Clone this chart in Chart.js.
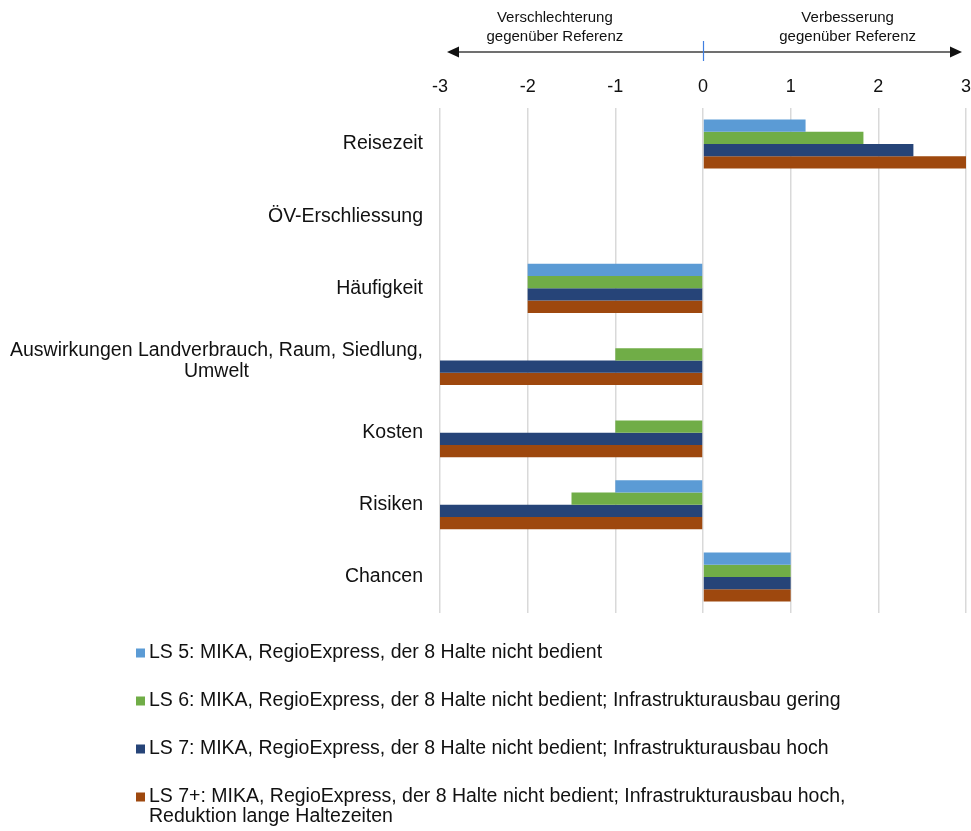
<!DOCTYPE html>
<html>
<head>
<meta charset="utf-8">
<script src="https://cdn.jsdelivr.net/npm/chart.js@4/dist/chart.umd.min.js"></script>
<style>
  html, body { margin: 0; padding: 0; background: #fff; }
  canvas { display: block; }
</style>
</head>
<body>
<canvas id="c" width="971" height="831"></canvas>
<script>
// Kriterien (Kategorien) und Bewertungen je Linienstrategie
const categories = [
  'Reisezeit',
  'ÖV-Erschliessung',
  'Häufigkeit',
  ['Auswirkungen Landverbrauch, Raum, Siedlung,', 'Umwelt'],
  'Kosten',
  'Risiken',
  'Chancen'
];
const seriesNames = [
  ['LS 5: MIKA, RegioExpress, der 8 Halte nicht bedient'],
  ['LS 6: MIKA, RegioExpress, der 8 Halte nicht bedient; Infrastrukturausbau gering'],
  ['LS 7: MIKA, RegioExpress, der 8 Halte nicht bedient; Infrastrukturausbau hoch'],
  ['LS 7+: MIKA, RegioExpress, der 8 Halte nicht bedient; Infrastrukturausbau hoch,', 'Reduktion lange Haltezeiten']
];
const ls5  = [1.17, 0, -2,  0,  0, -1,   1];
const ls6  = [1.83, 0, -2, -1, -1, -1.5, 1];
const ls7  = [2.4,  0, -2, -3, -3, -3,   1];
const ls7p = [3,    0, -2, -3, -3, -3,   1];
const tickValues = [-3, -2, -1, 0, 1, 2, 3];
const directionLabels = [
  ['Verschlechterung', 'gegenüber Referenz'],
  ['Verbesserung', 'gegenüber Referenz']
];

const colors = ['#5B9BD5', '#70AD47', '#264478', '#9E480E'];
const FONT = '"Liberation Sans", Arial, sans-serif';
const TEXT = '#111';

// Kategorienbeschriftung links (rechtsbündig, Zeilen untereinander zentriert)
const categoryLabels = {
  id: 'categoryLabels',
  afterDraw(chart) {
    const ctx = chart.ctx;
    const y = chart.scales.y;
    const rightEdge = 423;
    const lh = 21;
    ctx.save();
    ctx.font = '19.5px ' + FONT;
    ctx.fillStyle = TEXT;
    ctx.textBaseline = 'middle';
    categories.forEach((lab, i) => {
      const lines = Array.isArray(lab) ? lab : [lab];
      const cy = y.getPixelForValue(i) + (lines.length > 1 ? 1 : 0);
      const widths = lines.map(l => ctx.measureText(l).width);
      const maxW = Math.max(...widths);
      const blockCenter = rightEdge - maxW / 2;
      ctx.textAlign = 'center';
      lines.forEach((l, k) => {
        const ly = cy + (k - (lines.length - 1) / 2) * lh;
        ctx.fillText(l, blockCenter, ly);
      });
    });
    ctx.restore();
  }
};

// Pfeil oberhalb der Achse mit Richtungsbeschriftung
const directionArrow = {
  id: 'directionArrow',
  afterDraw(chart) {
    const ctx = chart.ctx;
    const x = chart.scales.x;
    const ay = 52;
    const x0 = x.getPixelForValue(-3) + 7;
    const x1 = x.getPixelForValue(3) - 4;
    const xz = x.getPixelForValue(0);
    ctx.save();
    ctx.strokeStyle = '#404040';
    ctx.fillStyle = '#111';
    ctx.lineWidth = 1.5;
    ctx.beginPath();
    ctx.moveTo(x0 + 8, ay);
    ctx.lineTo(x1 - 8, ay);
    ctx.stroke();
    ctx.beginPath();
    ctx.moveTo(x0, ay);
    ctx.lineTo(x0 + 12, ay - 5.5);
    ctx.lineTo(x0 + 12, ay + 5.5);
    ctx.closePath();
    ctx.fill();
    ctx.beginPath();
    ctx.moveTo(x1, ay);
    ctx.lineTo(x1 - 12, ay - 5.5);
    ctx.lineTo(x1 - 12, ay + 5.5);
    ctx.closePath();
    ctx.fill();
    ctx.strokeStyle = '#3F7FE0';
    ctx.lineWidth = 1.2;
    ctx.beginPath();
    ctx.moveTo(xz + 0.5, 41);
    ctx.lineTo(xz + 0.5, 61);
    ctx.stroke();
    ctx.font = '15px ' + FONT;
    ctx.fillStyle = TEXT;
    ctx.textAlign = 'center';
    ctx.textBaseline = 'middle';
    const centers = [x.getPixelForValue(-1.69), x.getPixelForValue(1.65)];
    directionLabels.forEach((lines, i) => {
      lines.forEach((l, k) => ctx.fillText(l, centers[i], 18 + k * 19));
    });
    ctx.restore();
  }
};

// Legende unterhalb, ein Eintrag pro Zeile
const bottomLegend = {
  id: 'bottomLegend',
  afterDraw(chart) {
    const ctx = chart.ctx;
    ctx.save();
    ctx.font = '19.5px ' + FONT;
    ctx.textAlign = 'left';
    ctx.textBaseline = 'middle';
    const rows = [653, 701, 749, 797];
    chart.data.datasets.forEach((ds, i) => {
      const cy = rows[i];
      ctx.fillStyle = ds.backgroundColor;
      ctx.fillRect(136, cy - 4.5, 9, 9);
      ctx.fillStyle = TEXT;
      const lines = seriesNames[i];
      lines.forEach((l, k) => ctx.fillText(l, 149, cy + k * 20));
    });
    ctx.restore();
  }
};

const datasets = [ls5, ls6, ls7, ls7p].map((d, i) => ({
  label: seriesNames[i].join(' '),
  data: d,
  backgroundColor: colors[i],
  borderWidth: 0,
  categoryPercentage: 0.68,
  barPercentage: 1.0
}));

new Chart(document.getElementById('c'), {
  type: 'bar',
  data: { labels: categories.map(c => Array.isArray(c) ? c.join(' ') : c), datasets },
  options: {
    indexAxis: 'y',
    responsive: false,
    animation: false,
    layout: { padding: { left: 440, right: 5, top: 0, bottom: 218 } },
    plugins: { legend: { display: false }, tooltip: { enabled: false } },
    scales: {
      x: {
        position: 'top',
        min: -3,
        max: 3,
        afterFit(scale) {
          scale.height = 108;
          scale.paddingLeft = 0;
          scale.paddingRight = 0;
        },
        afterBuildTicks(scale) { scale.ticks = tickValues.map(v => ({ value: v })); },
        ticks: { color: TEXT, font: { family: FONT, size: 18 }, padding: 10 },
        grid: { color: '#d9d9d9', lineWidth: 1.5, drawTicks: false },
        border: { display: false }
      },
      y: {
        display: false
      }
    }
  },
  plugins: [categoryLabels, directionArrow, bottomLegend]
});
</script>
</body>
</html>
